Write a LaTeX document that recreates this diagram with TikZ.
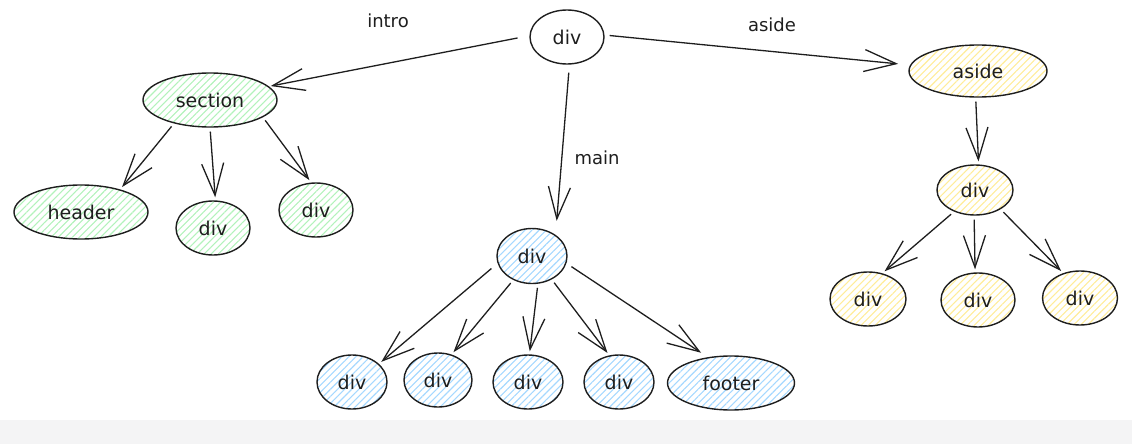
\documentclass[tikz,border=0pt]{standalone}
\usepackage{fontspec}
\setmainfont{DejaVu Sans}
\usetikzlibrary{arrows.meta,patterns.meta,shapes.geometric}
\definecolor{hgreen}{HTML}{B2F2BB}
\definecolor{hblue}{HTML}{A5D8FF}
\definecolor{hyellow}{HTML}{FFEC99}
\definecolor{ink}{HTML}{1E1E1E}
\definecolor{strip}{HTML}{F4F4F5}
\tikzset{
  el/.style={ellipse, draw=ink, line width=1.4pt, inner sep=0pt,
    font=\fontsize{19}{19}\selectfont, text=ink},
  hatch/.style={pattern={Lines[angle=45,distance=5pt,line width=1.1pt]}, pattern color=#1},
  gnode/.style={el, hatch=hgreen},
  bnode/.style={el, hatch=hblue},
  ynode/.style={el, hatch=hyellow},
  wnode/.style={el},
  arr/.style={draw=ink, line width=1.3pt, -{Straight Barb[length=32pt,width=22pt,line width=1.3pt]},
    shorten <=4pt, shorten >=3pt},
  lbl/.style={font=\fontsize{18}{18}\selectfont, text=ink, inner sep=0pt},
}
\begin{document}
\begin{tikzpicture}[x=1pt,y=-1pt]
\useasboundingbox (0,0) rectangle (1132,444);
\fill[strip] (0,420) rectangle (1132,444);
% root
\node[wnode, minimum width=74pt, minimum height=54pt] (r) at (567,37) {div};
% left
\node[gnode, minimum width=134pt, minimum height=54pt] (sec) at (210,100) {section};
\node[gnode, minimum width=134pt, minimum height=54pt] (hd) at (81,212) {header};
\node[gnode, minimum width=74pt, minimum height=54pt] (s2) at (213,228) {div};
\node[gnode, minimum width=74pt, minimum height=54pt] (s3) at (316,210) {div};
% right
\node[ynode, minimum width=138pt, minimum height=52pt] (as) at (978,71) {aside};
\node[ynode, minimum width=76pt, minimum height=50pt] (ad) at (975,190) {div};
\node[ynode, minimum width=76pt, minimum height=54pt] (a1) at (868,299) {div};
\node[ynode, minimum width=74pt, minimum height=54pt] (a2) at (978,300) {div};
\node[ynode, minimum width=75pt, minimum height=54pt] (a3) at (1080,298) {div};
% main
\node[bnode, minimum width=70pt, minimum height=55pt] (m) at (532,256) {div};
\node[bnode, minimum width=70pt, minimum height=54pt] (b1) at (352,382) {div};
\node[bnode, minimum width=68pt, minimum height=54pt] (b2) at (438,380) {div};
\node[bnode, minimum width=70pt, minimum height=54pt] (b3) at (528,382) {div};
\node[bnode, minimum width=70pt, minimum height=54pt] (b4) at (619,382) {div};
\node[bnode, minimum width=127pt, minimum height=54pt] (ft) at (731,383) {footer};
% labels
\node[lbl] (lintro) at (388,21) {intro};
\node[lbl] (laside) at (772,25) {aside};
\node[lbl] (lmain) at (597,158) {main};
% connectors
\draw[arr, shorten <=12pt, shorten >=2pt] (r.178) -- (sec.13);
\draw[arr, shorten <=5pt, shorten >=12pt] (r.3) -- (as.175);
\draw[arr, shorten <=8pt, shorten >=14pt] (r.275) -- (m.42);
\draw[arr] (sec.213) -- (hd.30);
\draw[arr] (sec.270) -- (s2.85);
\draw[arr] (sec.342) -- (s3.100);
\draw[arr] (as.265) -- (ad.82);
\draw[arr] (ad.226) -- (a1.61);
\draw[arr] (ad.268) -- (a2.96);
\draw[arr] (ad.323) -- (a3.124);
\draw[arr, shorten <=8pt] (m.192) -- (b1.34);
\draw[arr] (m.232) -- (b2.62);
\draw[arr] (m.282) -- (b3.87);
\draw[arr] (m.310) -- (b4.110);
\draw[arr, shorten <=6pt, shorten >=8pt] (m.348) -- (ft.132);
\end{tikzpicture}
\end{document}
